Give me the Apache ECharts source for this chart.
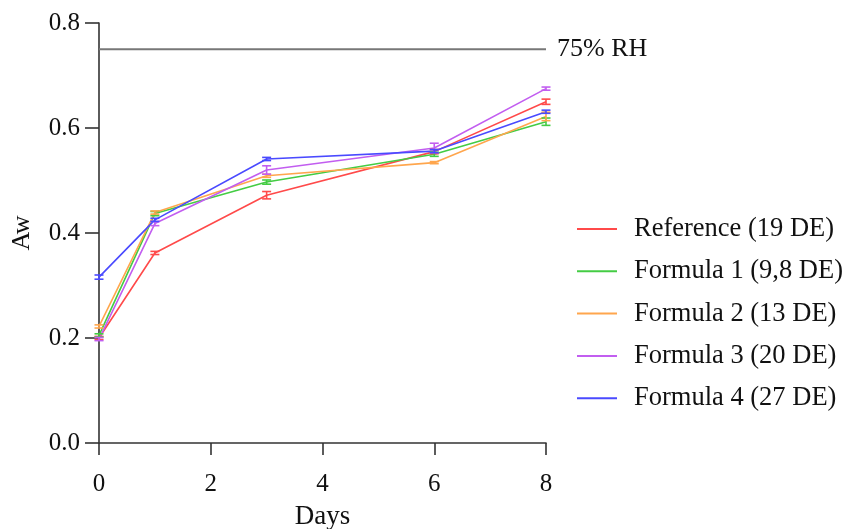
<!DOCTYPE html>
<html><head><meta charset="utf-8">
<script src="https://cdn.jsdelivr.net/npm/echarts@6/dist/echarts.min.js"></script>
<style>html,body{margin:0;padding:0;background:#fff}#c{width:845px;height:529px}</style>
</head><body><div id="c"></div>
<script>
const days = [0, 1, 3, 6, 8];
const seriesNames = ['Reference (19 DE)', 'Formula 1 (9,8 DE)', 'Formula 2 (13 DE)', 'Formula 3 (20 DE)', 'Formula 4 (27 DE)'];
const refVals = [0.200, 0.362, 0.472, 0.555, 0.650];
const f1Vals  = [0.205, 0.437, 0.497, 0.550, 0.612];
const f2Vals  = [0.222, 0.439, 0.509, 0.534, 0.622];
const f3Vals  = [0.198, 0.418, 0.520, 0.562, 0.675];
const f4Vals  = [0.316, 0.425, 0.541, 0.556, 0.631];
const refErr = [0.003, 0.003, 0.007, 0.004, 0.005];
const f1Err  = [0.003, 0.004, 0.004, 0.004, 0.007];
const f2Err  = [0.003, 0.003, 0.003, 0.002, 0.008];
const f3Err  = [0.003, 0.004, 0.008, 0.009, 0.003];
const f4Err  = [0.004, 0.003, 0.003, 0.003, 0.003];
const rhValue = 0.75;
const rhLabel = '75% RH';

const colors = ['#ff4a4a', '#44cc44', '#ffa64d', '#c25ef0', '#4a4aff'];
const allVals = [refVals, f1Vals, f2Vals, f3Vals, f4Vals];
const allErr = [refErr, f1Err, f2Err, f3Err, f4Err];
const font = 'Liberation Serif';

const series = [];
allVals.forEach((vals, i) => {
  series.push({
    name: seriesNames[i], type: 'line', symbol: 'none',
    data: days.map((d, k) => [d, vals[k]]),
    lineStyle: {color: colors[i], width: 1.6}, itemStyle: {color: colors[i]},
    z: 3
  });
  series.push({
    name: seriesNames[i], type: 'custom', z: 4,
    data: days.map((d, k) => [d, vals[k] - allErr[i][k], vals[k] + allErr[i][k]]),
    renderItem: function (params, api) {
      const x = api.value(0);
      const lo = api.coord([x, api.value(1)]);
      const hi = api.coord([x, api.value(2)]);
      const hw = 4.5;
      const st = {stroke: colors[i], lineWidth: 1.6};
      return {type: 'group', children: [
        {type: 'line', shape: {x1: lo[0], y1: lo[1], x2: hi[0], y2: hi[1]}, style: st},
        {type: 'line', shape: {x1: lo[0]-hw, y1: lo[1], x2: lo[0]+hw, y2: lo[1]}, style: st},
        {type: 'line', shape: {x1: hi[0]-hw, y1: hi[1], x2: hi[0]+hw, y2: hi[1]}, style: st}
      ]};
    }
  });
});
series.push({
  name: 'rh', type: 'line', symbol: 'none', silent: true,
  data: [[0, rhValue], [8, rhValue]],
  lineStyle: {color: '#777', width: 1.8}, z: 2,
  endLabel: {show: true, formatter: rhLabel, color: '#111', fontFamily: font, fontSize: 26, distance: 11}
});

const chart = echarts.init(document.getElementById('c'));
chart.setOption({
  animation: false,
  grid: {left: 99, right: 299, top: 23, bottom: 86, containLabel: false, outerBoundsMode: 'none'},
  xAxis: {
    type: 'value', min: 0, max: 8, interval: 2,
    name: 'Days', nameLocation: 'middle', nameGap: 60,
    nameTextStyle: {fontFamily: font, fontSize: 27, color: '#111'},
    axisLine: {lineStyle: {color: '#333', width: 1.6}},
    axisTick: {length: 12, lineStyle: {color: '#333', width: 1.6}},
    axisLabel: {fontFamily: font, fontSize: 25, color: '#111', margin: 29},
    splitLine: {show: false}
  },
  yAxis: {
    type: 'value', min: 0, max: 0.8, interval: 0.2,
    name: 'Aw', nameLocation: 'middle', nameGap: 64, nameRotate: 90,
    nameTextStyle: {fontFamily: font, fontSize: 26, color: '#111'},
    axisLine: {show: true, lineStyle: {color: '#333', width: 1.6}},
    axisTick: {show: true, length: 14, lineStyle: {color: '#333', width: 1.6}},
    axisLabel: {fontFamily: font, fontSize: 25, color: '#111', margin: 19, formatter: v => v.toFixed(1)},
    splitLine: {show: false}
  },
  legend: {
    data: seriesNames, orient: 'vertical', left: 572, top: 210.5,
    icon: 'rect', itemWidth: 40, itemHeight: 2, itemGap: 15.3,
    textStyle: {fontFamily: font, fontSize: 26.5, color: '#111', lineHeight: 26, padding: [0,0,0,12]},
    selectedMode: false
  },
  series: series
});
</script></body></html>
